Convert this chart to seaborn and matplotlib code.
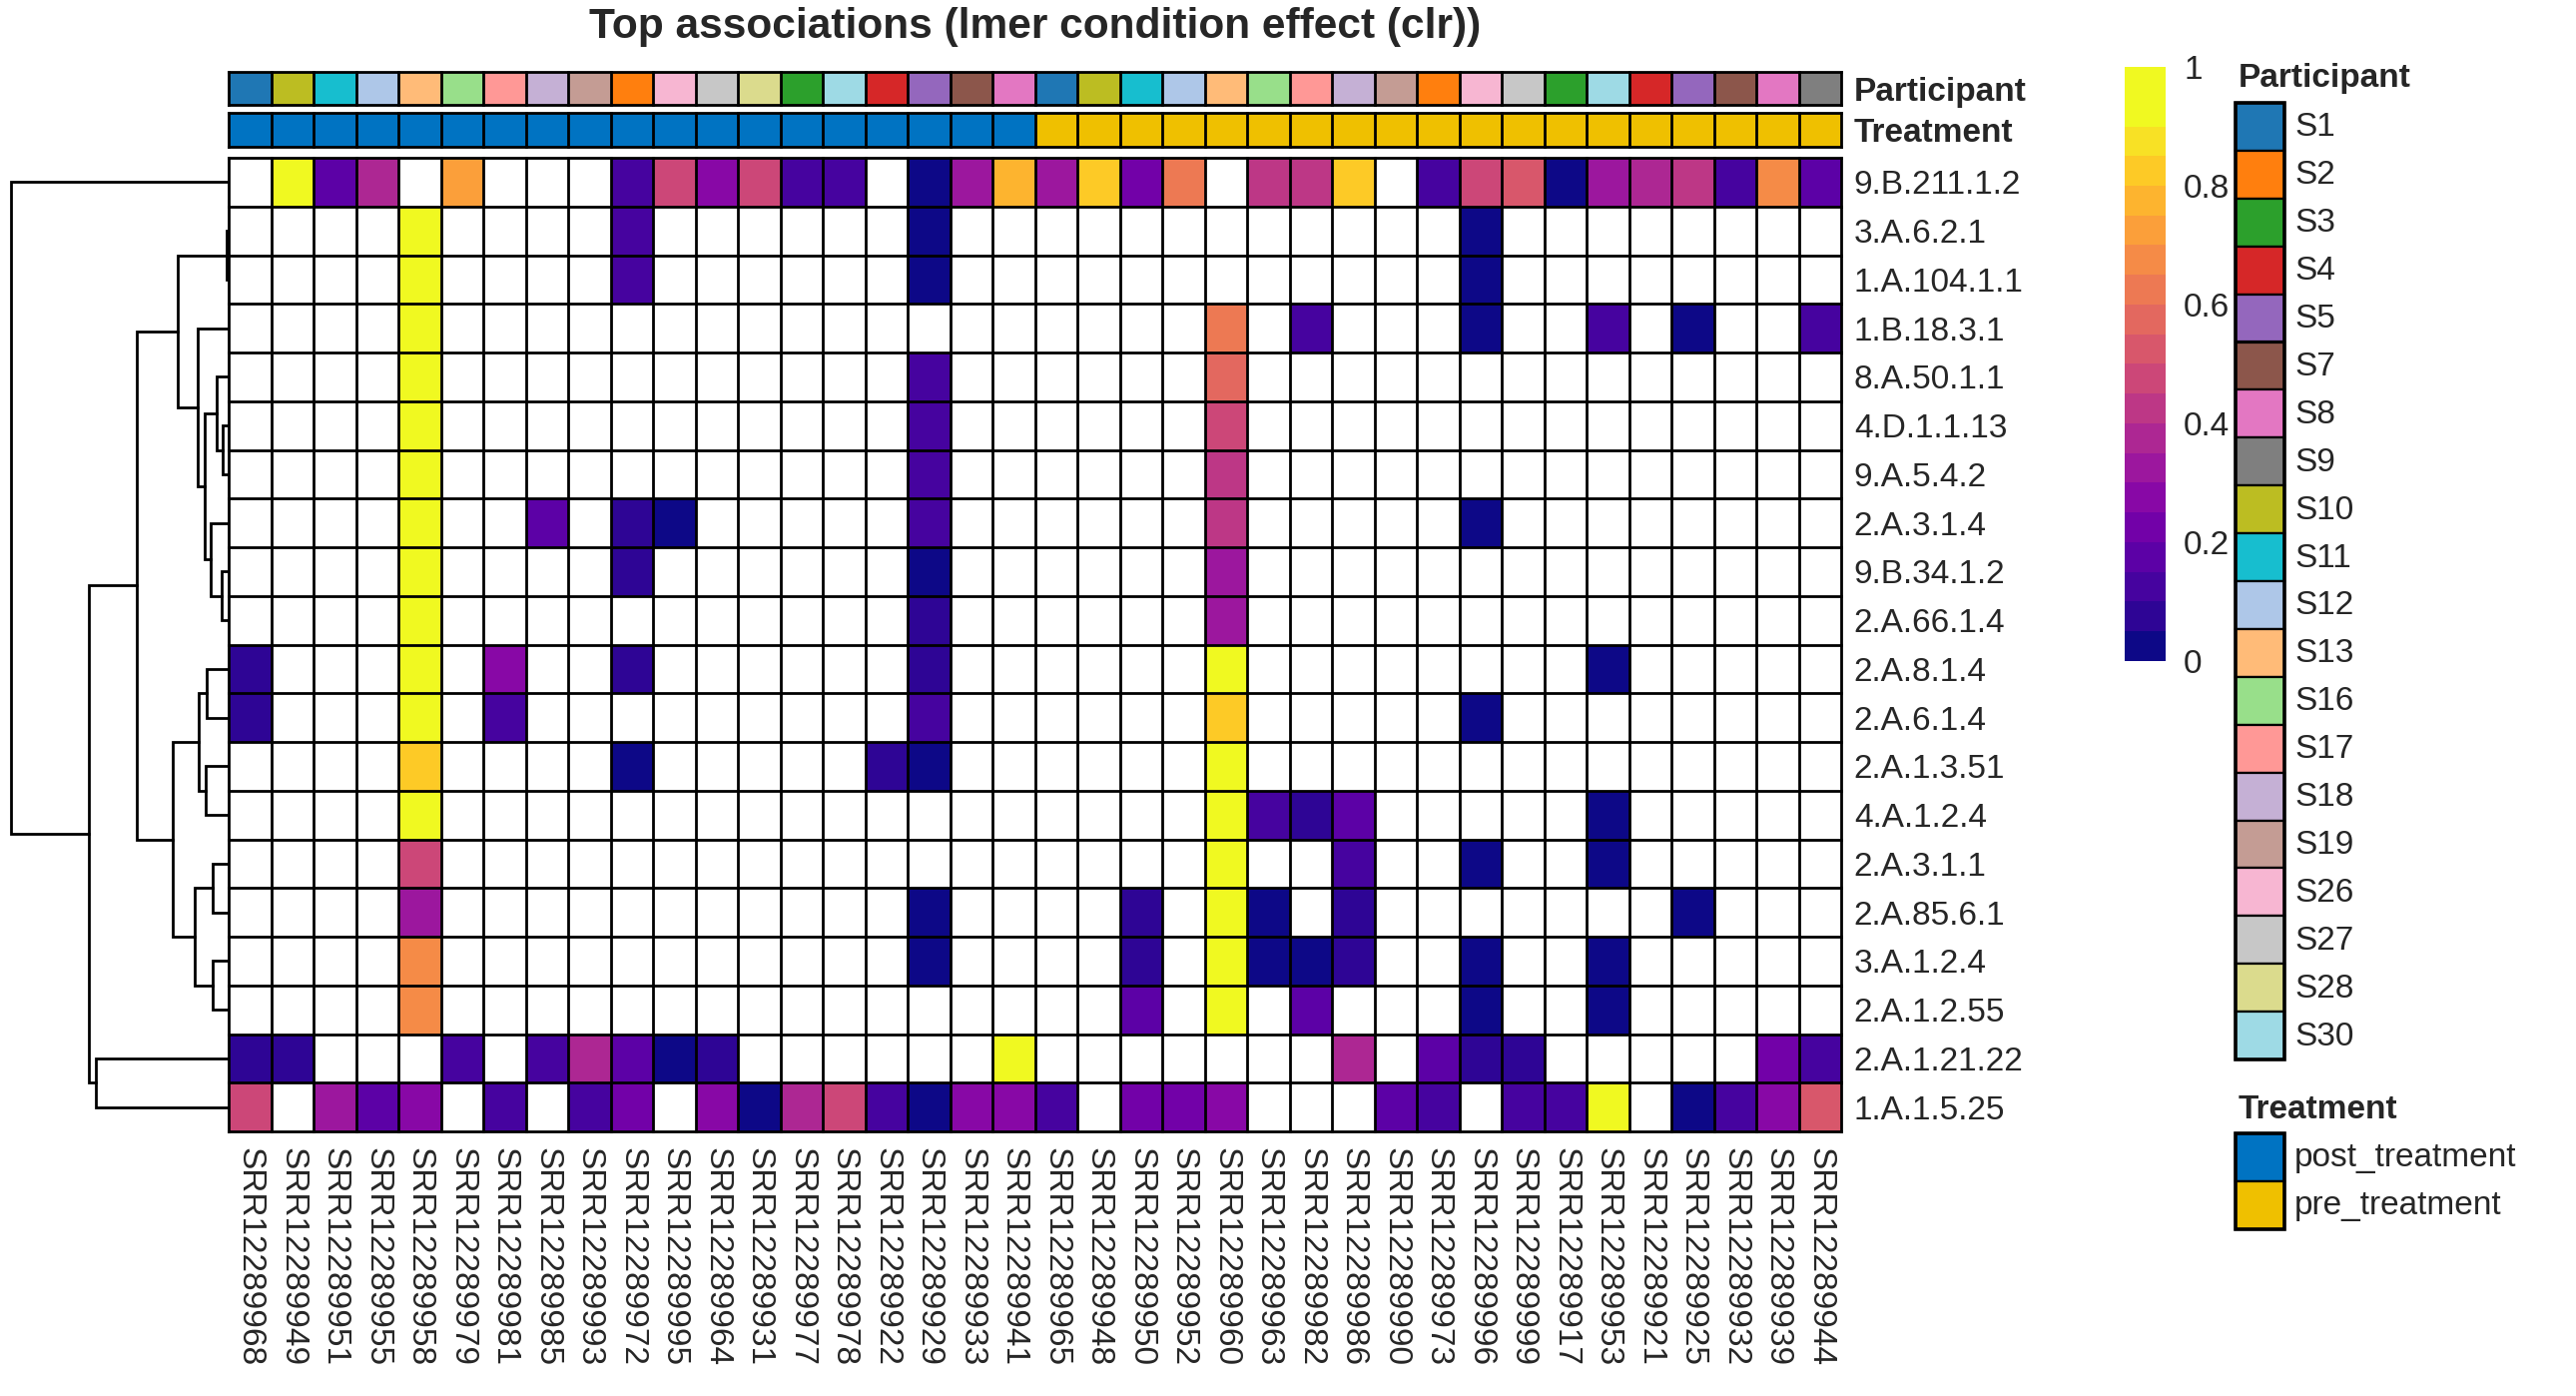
import numpy as np
import pandas as pd
import matplotlib
matplotlib.use("Agg")
import matplotlib.pyplot as plt
import seaborn as sns
from matplotlib.colors import ListedColormap
from matplotlib.patches import Rectangle

N = np.nan

title = "Top associations (lmer condition effect (clr))"

samples = ["SRR12289968", "SRR12289949", "SRR12289951", "SRR12289955", "SRR12289958",
           "SRR12289979", "SRR12289981", "SRR12289985", "SRR12289993", "SRR12289972",
           "SRR12289995", "SRR12289964", "SRR12289931", "SRR12289977", "SRR12289978",
           "SRR12289922", "SRR12289929", "SRR12289933", "SRR12289941", "SRR12289965",
           "SRR12289948", "SRR12289950", "SRR12289952", "SRR12289960", "SRR12289963",
           "SRR12289982", "SRR12289986", "SRR12289990", "SRR12289973", "SRR12289996",
           "SRR12289999", "SRR12289917", "SRR12289953", "SRR12289921", "SRR12289925",
           "SRR12289932", "SRR12289939", "SRR12289944"]

sample_participant = ["S1", "S10", "S11", "S12", "S13", "S16", "S17", "S18", "S19", "S2",
                      "S26", "S27", "S28", "S3", "S30", "S4", "S5", "S7", "S8",
                      "S1", "S10", "S11", "S12", "S13", "S16", "S17", "S18", "S19", "S2",
                      "S26", "S27", "S3", "S30", "S4", "S5", "S7", "S8", "S9"]

sample_treatment = ["post_treatment"] * 19 + ["pre_treatment"] * 19

features = ["9.B.211.1.2", "3.A.6.2.1", "1.A.104.1.1", "1.B.18.3.1", "8.A.50.1.1",
            "4.D.1.1.13", "9.A.5.4.2", "2.A.3.1.4", "9.B.34.1.2", "2.A.66.1.4",
            "2.A.8.1.4", "2.A.6.1.4", "2.A.1.3.51", "4.A.1.2.4", "2.A.3.1.1",
            "2.A.85.6.1", "3.A.1.2.4", "2.A.1.2.55", "2.A.1.21.22", "1.A.1.5.25"]

values = [
    [N, 0.98, 0.17, 0.38, N, 0.73, N, N, N, 0.12, 0.48, 0.28, 0.48, 0.12, 0.12, N, 0.02, 0.33, 0.78, 0.33,
     0.83, 0.22, 0.63, N, 0.43, 0.43, 0.83, N, 0.12, 0.48, 0.53, 0.02, 0.33, 0.38, 0.43, 0.12, 0.68, 0.17],
    [N, N, N, N, 0.98, N, N, N, N, 0.12, N, N, N, N, N, N, 0.02, N, N, N,
     N, N, N, N, N, N, N, N, N, 0.02, N, N, N, N, N, N, N, N],
    [N, N, N, N, 0.98, N, N, N, N, 0.12, N, N, N, N, N, N, 0.02, N, N, N,
     N, N, N, N, N, N, N, N, N, 0.02, N, N, N, N, N, N, N, N],
    [N, N, N, N, 0.98, N, N, N, N, N, N, N, N, N, N, N, N, N, N, N,
     N, N, N, 0.63, N, 0.12, N, N, N, 0.02, N, N, 0.12, N, 0.02, N, N, 0.12],
    [N, N, N, N, 0.98, N, N, N, N, N, N, N, N, N, N, N, 0.12, N, N, N,
     N, N, N, 0.58, N, N, N, N, N, N, N, N, N, N, N, N, N, N],
    [N, N, N, N, 0.98, N, N, N, N, N, N, N, N, N, N, N, 0.12, N, N, N,
     N, N, N, 0.48, N, N, N, N, N, N, N, N, N, N, N, N, N, N],
    [N, N, N, N, 0.98, N, N, N, N, N, N, N, N, N, N, N, 0.12, N, N, N,
     N, N, N, 0.43, N, N, N, N, N, N, N, N, N, N, N, N, N, N],
    [N, N, N, N, 0.98, N, N, 0.17, N, 0.07, 0.02, N, N, N, N, N, 0.12, N, N, N,
     N, N, N, 0.43, N, N, N, N, N, 0.02, N, N, N, N, N, N, N, N],
    [N, N, N, N, 0.98, N, N, N, N, 0.07, N, N, N, N, N, N, 0.02, N, N, N,
     N, N, N, 0.33, N, N, N, N, N, N, N, N, N, N, N, N, N, N],
    [N, N, N, N, 0.98, N, N, N, N, N, N, N, N, N, N, N, 0.07, N, N, N,
     N, N, N, 0.33, N, N, N, N, N, N, N, N, N, N, N, N, N, N],
    [0.07, N, N, N, 0.98, N, 0.28, N, N, 0.07, N, N, N, N, N, N, 0.07, N, N, N,
     N, N, N, 0.98, N, N, N, N, N, N, N, N, 0.02, N, N, N, N, N],
    [0.07, N, N, N, 0.98, N, 0.12, N, N, N, N, N, N, N, N, N, 0.12, N, N, N,
     N, N, N, 0.83, N, N, N, N, N, 0.02, N, N, N, N, N, N, N, N],
    [N, N, N, N, 0.83, N, N, N, N, 0.02, N, N, N, N, N, 0.07, 0.02, N, N, N,
     N, N, N, 0.98, N, N, N, N, N, N, N, N, N, N, N, N, N, N],
    [N, N, N, N, 0.98, N, N, N, N, N, N, N, N, N, N, N, N, N, N, N,
     N, N, N, 0.98, 0.12, 0.07, 0.17, N, N, N, N, N, 0.02, N, N, N, N, N],
    [N, N, N, N, 0.48, N, N, N, N, N, N, N, N, N, N, N, N, N, N, N,
     N, N, N, 0.98, N, N, 0.12, N, N, 0.02, N, N, 0.02, N, N, N, N, N],
    [N, N, N, N, 0.33, N, N, N, N, N, N, N, N, N, N, N, 0.02, N, N, N,
     N, 0.07, N, 0.98, 0.02, N, 0.07, N, N, N, N, N, N, N, 0.02, N, N, N],
    [N, N, N, N, 0.68, N, N, N, N, N, N, N, N, N, N, N, 0.02, N, N, N,
     N, 0.07, N, 0.98, 0.02, 0.02, 0.07, N, N, 0.02, N, N, 0.02, N, N, N, N, N],
    [N, N, N, N, 0.68, N, N, N, N, N, N, N, N, N, N, N, N, N, N, N,
     N, 0.17, N, 0.98, N, 0.17, N, N, N, 0.02, N, N, 0.02, N, N, N, N, N],
    [0.07, 0.07, N, N, N, 0.12, N, 0.12, 0.38, 0.17, 0.02, 0.07, N, N, N, N, N, N, 0.98, N,
     N, N, N, N, N, N, 0.38, N, 0.17, 0.07, 0.07, N, N, N, N, N, 0.22, 0.12],
    [0.48, N, 0.33, 0.17, 0.28, N, 0.12, N, 0.12, 0.22, N, 0.28, 0.02, 0.38, 0.48, 0.12, 0.02, 0.28, 0.27, 0.12,
     N, 0.22, 0.22, 0.27, N, N, N, 0.17, 0.12, N, 0.12, 0.12, 0.98, N, 0.02, 0.12, 0.27, 0.53],
]

# row dendrogram: (child_a, child_b, height); leaves 0..19, new nodes from 20
row_linkage = [
    (1, 2, 0.05), (5, 6, 0.17), (4, 21, 0.35), (8, 9, 0.22), (7, 23, 0.54),
    (22, 24, 0.72), (3, 25, 0.92), (20, 26, 1.53), (10, 11, 0.65), (12, 13, 0.70),
    (28, 29, 0.90), (14, 15, 0.47), (16, 17, 0.47), (31, 32, 1.02), (30, 33, 1.70),
    (27, 34, 2.77), (18, 19, 4.00), (35, 36, 4.22), (0, 37, 6.57),
]

participant_levels = ["S1", "S2", "S3", "S4", "S5", "S7", "S8", "S9", "S10", "S11",
                      "S12", "S13", "S16", "S17", "S18", "S19", "S26", "S27", "S28", "S30"]
participant_colors = ["#1f77b4", "#ff7f0e", "#2ca02c", "#d62728", "#9467bd", "#8c564b",
                      "#e377c2", "#7f7f7f", "#bcbd22", "#17becf", "#aec7e8", "#ffbb78",
                      "#98df8a", "#ff9896", "#c5b0d5", "#c49c94", "#f7b6d2", "#c7c7c7",
                      "#dbdb8d", "#9edae5"]
treatment_levels = ["post_treatment", "pre_treatment"]
treatment_colors = ["#0073C2", "#EFC000"]

cbar_ticks = [0, 0.2, 0.4, 0.6, 0.8, 1]
cbar_ticklabels = ["0", "0.2", "0.4", "0.6", "0.8", "1"]

# ---------------------------------------------------------------------------
sns.set_style("white")
plt.rcParams["font.family"] = ["Liberation Sans", "DejaVu Sans"]

W, H = 2580, 1398
DPI = 200
fig = plt.figure(figsize=(W / DPI, H / DPI), dpi=DPI)
fig.patch.set_facecolor("white")


def box(x0, y0, x1, y1):
    return [x0 / W, 1 - y1 / H, (x1 - x0) / W, (y1 - y0) / H]


HX0, HX1 = 229, 1844
HY0, HY1 = 158, 1133
LW = 1.0
FS = 12

ax = fig.add_axes(box(HX0, HY0, HX1, HY1))
ax_p = fig.add_axes(box(HX0, 72, HX1, 105))
ax_t = fig.add_axes(box(HX0, 113, HX1, 147))
ax_d = fig.add_axes(box(0, HY0, HX0, HY1))
cax = fig.add_axes(box(2128, 67, 2169, 662))

plasma = plt.get_cmap("plasma")
cols = [plasma(v) for v in np.linspace(0, 1, 19)]
cols.append(cols[-1])
cmap = ListedColormap(cols)

df = pd.DataFrame(values, index=features, columns=samples)
nr, nc = df.shape

sns.heatmap(df, ax=ax, cmap=cmap, vmin=0, vmax=1, cbar_ax=cax,
            xticklabels=True, yticklabels=True, linewidths=0)
ax.set_facecolor("white")
ax.set_xlabel("")
ax.set_ylabel("")
hl = ax.hlines(np.arange(nr + 1), 0, nc, colors="black", lw=LW, clip_on=False)
vl = ax.vlines(np.arange(nc + 1), 0, nr, colors="black", lw=LW, clip_on=False)
for c in (hl, vl):
    c.set_capstyle("projecting")
ax.yaxis.tick_right()
ax.tick_params(axis="y", length=0, pad=4.6, labelsize=FS, labelrotation=0)
ax.tick_params(axis="x", length=0, pad=5.6, labelsize=FS, labelrotation=270)
for t in ax.get_xticklabels():
    t.set_va("top")
    t.set_ha("center")

# colorbar
cbar = ax.collections[0].colorbar
cbar.outline.set_visible(False)
cbar.set_ticks(cbar_ticks)
cbar.set_ticklabels(cbar_ticklabels)
cax.tick_params(length=0, pad=6.5, labelsize=FS)

# annotation bars
def annot_bar(a, levels, colors, per_sample, label):
    codes = np.array([[levels.index(v) for v in per_sample]])
    sns.heatmap(codes, ax=a, cmap=ListedColormap(colors), vmin=-0.5,
                vmax=len(levels) - 0.5, cbar=False, xticklabels=False,
                yticklabels=[label], linewidths=0)
    h = a.hlines([0, 1], 0, nc, colors="black", lw=LW, clip_on=False)
    v = a.vlines(np.arange(nc + 1), 0, 1, colors="black", lw=LW, clip_on=False)
    for c in (h, v):
        c.set_capstyle("projecting")
    a.yaxis.tick_right()
    a.tick_params(axis="y", length=0, pad=4.6, labelsize=FS, labelrotation=0)
    for t in a.get_yticklabels():
        t.set_fontweight("bold")


annot_bar(ax_p, participant_levels, participant_colors, sample_participant, "Participant")
annot_bar(ax_t, treatment_levels, treatment_colors, sample_treatment, "Treatment")

# dendrogram
n_leaves = nr
pos = {i: i + 0.5 for i in range(n_leaves)}
hgt = {i: 0.0 for i in range(n_leaves)}
for k, (a_, b_, h_) in enumerate(row_linkage):
    node = n_leaves + k
    ya, yb = pos[a_], pos[b_]
    ax_d.plot([hgt[a_], h_, h_, hgt[b_]], [ya, ya, yb, yb], color="black",
              lw=1.0, solid_capstyle="projecting", solid_joinstyle="miter")
    pos[node] = (ya + yb) / 2
    hgt[node] = h_
ax_d.set_ylim(nr, 0)
ax_d.set_xlim(6.90, 0)
ax_d.axis("off")

# legends (drawn in pixel space)
axl = fig.add_axes([0, 0, 1, 1], zorder=-1)
axl.set_xlim(0, W)
axl.set_ylim(H, 0)
axl.axis("off")

LX0, LX1 = 2239, 2288
bh = 47.9
top = 103
axl.text(2242, 79, "Participant", fontsize=FS, fontweight="bold", va="center", ha="left")
for i, (lev, col) in enumerate(zip(participant_levels, participant_colors)):
    y = top + i * bh
    axl.add_patch(Rectangle((LX0, y), LX1 - LX0, bh, facecolor=col, edgecolor="black", lw=0.8))
    axl.text(2298, y + bh / 2 + 1, lev, fontsize=FS, va="center", ha="left")
axl.add_patch(Rectangle((LX0, top), LX1 - LX0, bh * len(participant_levels),
                        facecolor="none", edgecolor="black", lw=1.3))

ttop = 1135
axl.text(2242, 1112, "Treatment", fontsize=FS, fontweight="bold", va="center", ha="left")
for i, (lev, col) in enumerate(zip(treatment_levels, treatment_colors)):
    y = ttop + i * bh
    axl.add_patch(Rectangle((LX0, y), LX1 - LX0, bh, facecolor=col, edgecolor="black", lw=0.8))
    axl.text(2298, y + bh / 2 + 1, lev, fontsize=FS, va="center", ha="left")
axl.add_patch(Rectangle((LX0, ttop), LX1 - LX0, bh * len(treatment_levels),
                        facecolor="none", edgecolor="black", lw=1.3))

fig.text((HX0 + HX1) / 2 / W, 1 - 38 / H, title, ha="center", va="baseline",
         fontsize=15.3, fontweight="bold")

fig.savefig("out.png", dpi=DPI, facecolor="white")
